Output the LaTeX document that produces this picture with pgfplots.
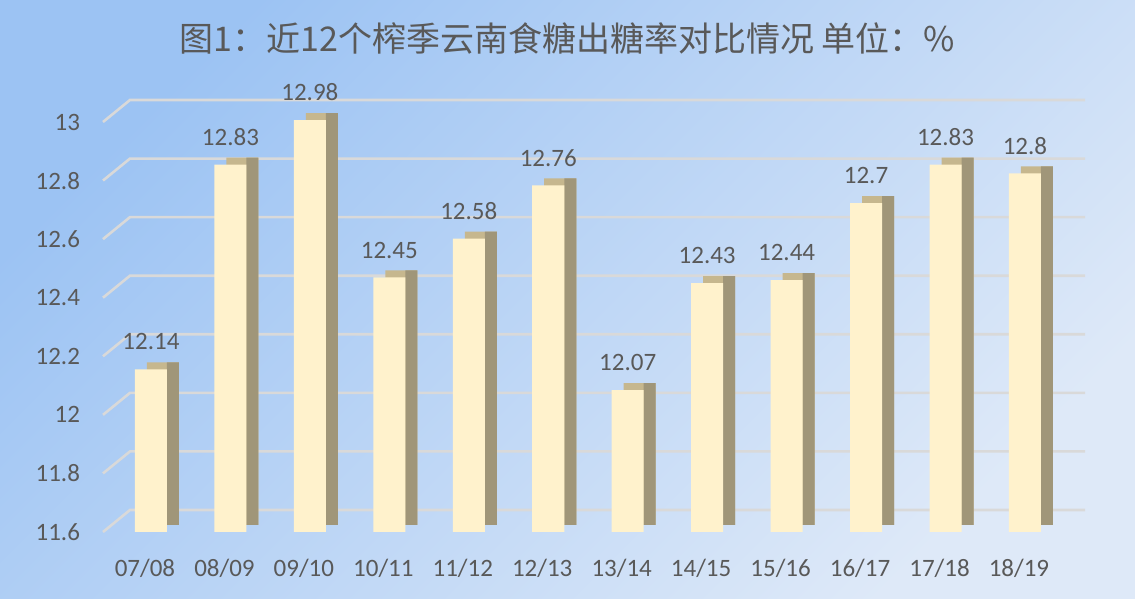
\documentclass[border=0pt]{standalone}
\usepackage{fontspec}
\setmainfont{Carlito}
\newfontfamily\cjk{Noto Sans CJK SC}
\usepackage{pgfplots}
\usepackage{pgfplotstable}
\pgfplotsset{compat=1.18}
\definecolor{txt}{HTML}{595959}
\definecolor{front}{HTML}{FFF2CC}
\definecolor{topc}{HTML}{C6B78E}
\definecolor{sidec}{HTML}{A09679}
\definecolor{gridc}{HTML}{D9D9D9}
\definecolor{bgA}{HTML}{9CC3F3}
\definecolor{bgB}{HTML}{DEE9F8}
\pgfplotstableread{
x y
0 12.14
1 12.83
2 12.98
3 12.45
4 12.58
5 12.76
6 12.07
7 12.43
8 12.44
9 12.70
10 12.83
11 12.80
}\data
\begin{document}
\begin{tikzpicture}[x=1pt,y=1pt]
\useasboundingbox (0,0) rectangle (567.5,299.5);
\shade[left color=bgA, right color=bgB, shading angle=45] (0,0) rectangle (567.5,299.5);
\node[font=\cjk\fontsize{17}{20}\selectfont, text=txt] at (283.75,280.5) {图1：近12个榨季云南食糖出糖率对比情况 单位：\%};
% grid and ticks (front plane)
\begin{axis}[
  at={(51.5pt,33.5pt)}, anchor=south west,
  scale only axis, width=477.5pt, height=205pt,
  xmin=-0.604, xmax=11.416, ymin=11.6, ymax=13,
  axis line style={draw=none}, major tick length=0pt,
  xtick={0,...,11},
  xticklabels={07/08,08/09,09/10,10/11,11/12,12/13,13/14,14/15,15/16,16/17,17/18,18/19},
  ytick={11.6,11.8,12,12.2,12.4,12.6,12.8,13},
  ticklabel style={font=\fontsize{12.5}{14}\selectfont, text=txt},
  /pgf/number format/assume math mode=true,
  yticklabel style={xshift=-8pt},
  xticklabel style={xshift=-3pt, yshift=-10pt},
  clip=false,
]
\pgfplotsinvokeforeach{11.6,11.8,12,12.2,12.4,12.6,12.8,13}{
  \draw[gridc, line width=1.3pt] (axis cs:-0.604,#1) -- ++(13.5pt,11pt) -- ([shift={(13.5pt,11pt)}]axis cs:11.416,#1);
}
\end{axis}
% bars (mid-depth scale)
\begin{axis}[
  at={(51.5pt,33.5pt)}, anchor=south west,
  scale only axis, width=477.5pt, height=216.37pt,
  xmin=-0.604, xmax=11.416, ymin=11.5915, ymax=13.05,
  hide axis,
  clip mode=individual,
]
\addplot[ybar, bar width=16pt, bar shift=6pt, yshift=3.5pt, fill=topc, draw=none] table[x=x,y=y] {\data};
\addplot[ybar, bar width=6pt, bar shift=11pt, yshift=3.5pt, fill=sidec, draw=none] table[x=x,y=y] {\data};
\addplot[ybar, bar width=16pt, bar shift=0pt, fill=front, draw=none,
  nodes near coords,
  nodes near coords style={font=\fontsize{12.5}{14}\selectfont, text=txt, yshift=6pt, /pgf/number format/assume math mode=true}] table[x=x,y=y] {\data};
\end{axis}
\end{tikzpicture}
\end{document}
